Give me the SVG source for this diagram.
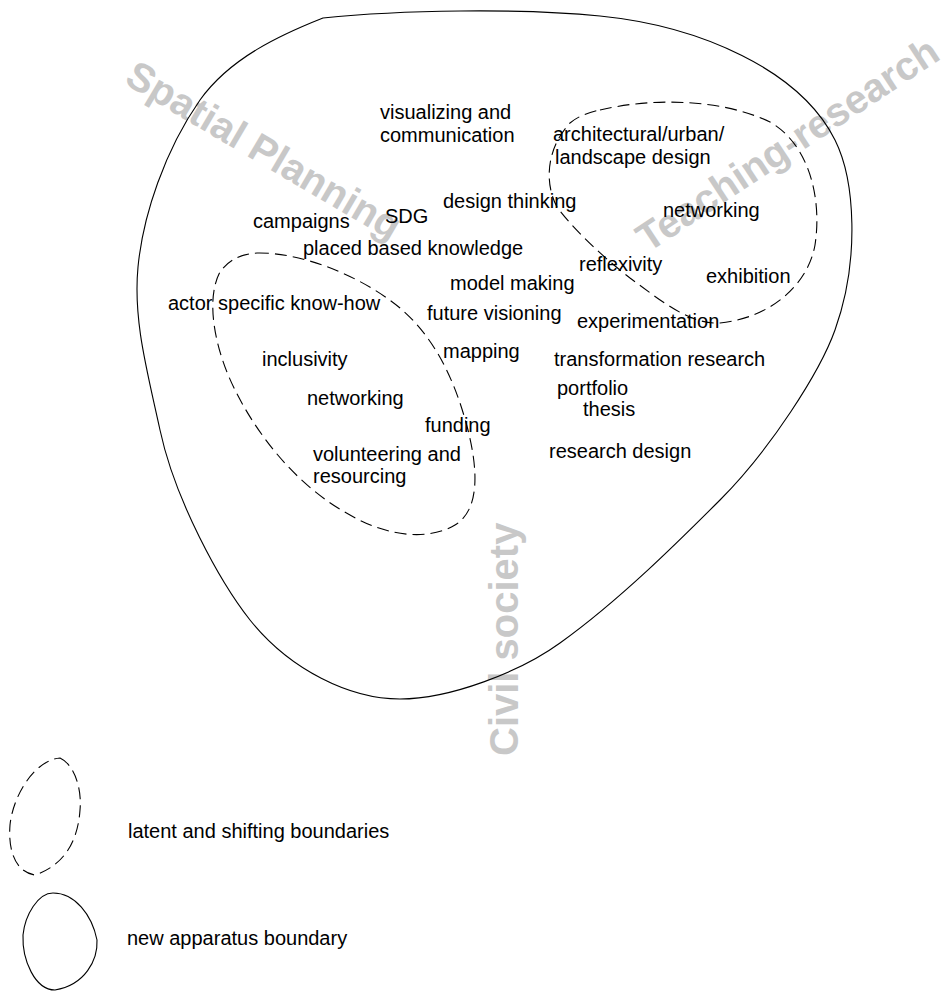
<svg xmlns="http://www.w3.org/2000/svg" width="949" height="992" viewBox="0 0 949 992">
<style>
.wm{font-family:"Liberation Sans",Arial,sans-serif;font-weight:bold;font-size:40px;fill:#c8c8c8}
.t{font-family:"Liberation Sans",Arial,sans-serif;font-size:20px;fill:#000}
.solid{fill:none;stroke:#000;stroke-width:1.1}
.dash{fill:none;stroke:#000;stroke-width:1.1;stroke-dasharray:12 6}
</style>
<rect width="949" height="992" fill="#fff"/>
<g id="watermarks">
<text class="wm" transform="translate(123,83) rotate(30.5)">Spatial Planning</text>
<text class="wm" transform="translate(648,253) rotate(-33.5)">Teaching-research</text>
<text class="wm" transform="translate(518,756) rotate(-90)">Civil society</text>
</g>
<g id="boundaries">
<path id="apparatus" class="solid" d="M323,18 C400,10 520,8 600,16 C700,26 800,70 835,140 C855,180 860,260 835,330 C820,372 770,450 720,500 C680,540 620,600 560,643 C520,672 450,699 400,699 C350,699 290,670 250,620 C220,582 175,500 160,430 C147,370 133,320 138,267 C143,215 165,150 200,100 C230,58 280,35 323,18 Z"/>
<path id="teaching-boundary" class="dash" d="M600,110 C650,98 720,98 770,122 C810,145 822,200 815,245 C808,285 770,318 720,323 C690,325 660,300 630,278 C600,255 570,225 557,207 C545,185 545,150 570,123 C578,116 590,112 600,110 Z"/>
<path id="civil-boundary" class="dash" d="M257,253 C300,252 360,275 400,308 C435,338 455,380 468,430 C478,470 480,510 455,525 C430,540 390,538 350,515 C300,488 260,440 235,390 C215,350 205,300 220,272 C230,258 243,254 257,253 Z"/>
</g>
<g id="labels">
<text class="t" x="380" y="119">visualizing and</text>
<text class="t" x="380" y="142">communication</text>
<text class="t" x="553" y="141">architectural/urban/</text>
<text class="t" x="555" y="164">landscape design</text>
<text class="t" x="443" y="208">design thinking</text>
<text class="t" x="385" y="223">SDG</text>
<text class="t" x="253" y="228">campaigns</text>
<text class="t" x="663" y="217">networking</text>
<text class="t" x="303" y="255">placed based knowledge</text>
<text class="t" x="579" y="271">reflexivity</text>
<text class="t" x="450" y="290">model making</text>
<text class="t" x="706" y="283">exhibition</text>
<text class="t" x="168" y="310">actor specific know-how</text>
<text class="t" x="427" y="320">future visioning</text>
<text class="t" x="577" y="328">experimentation</text>
<text class="t" x="443" y="358">mapping</text>
<text class="t" x="554" y="366">transformation research</text>
<text class="t" x="262" y="366">inclusivity</text>
<text class="t" x="557" y="395">portfolio</text>
<text class="t" x="307" y="405">networking</text>
<text class="t" x="583" y="416">thesis</text>
<text class="t" x="425" y="432">funding</text>
<text class="t" x="549" y="458">research design</text>
<text class="t" x="313" y="461">volunteering and</text>
<text class="t" x="313" y="483">resourcing</text>
</g>
<g id="legend-latent">
<path class="dash" d="M60,758 C75,765 82,790 80,810 C78,840 65,865 35,875 C15,872 8,850 10,825 C13,795 35,760 60,758 Z"/>
<text class="t" x="128" y="838">latent and shifting boundaries</text>
</g>
<g id="legend-apparatus">
<path class="solid" d="M53,893 C75,893 92,915 97,940 C98,960 85,985 55,990 C35,990 22,960 23,935 C25,915 38,893 53,893 Z"/>
<text class="t" x="127" y="945">new apparatus boundary</text>
</g>
</svg>
